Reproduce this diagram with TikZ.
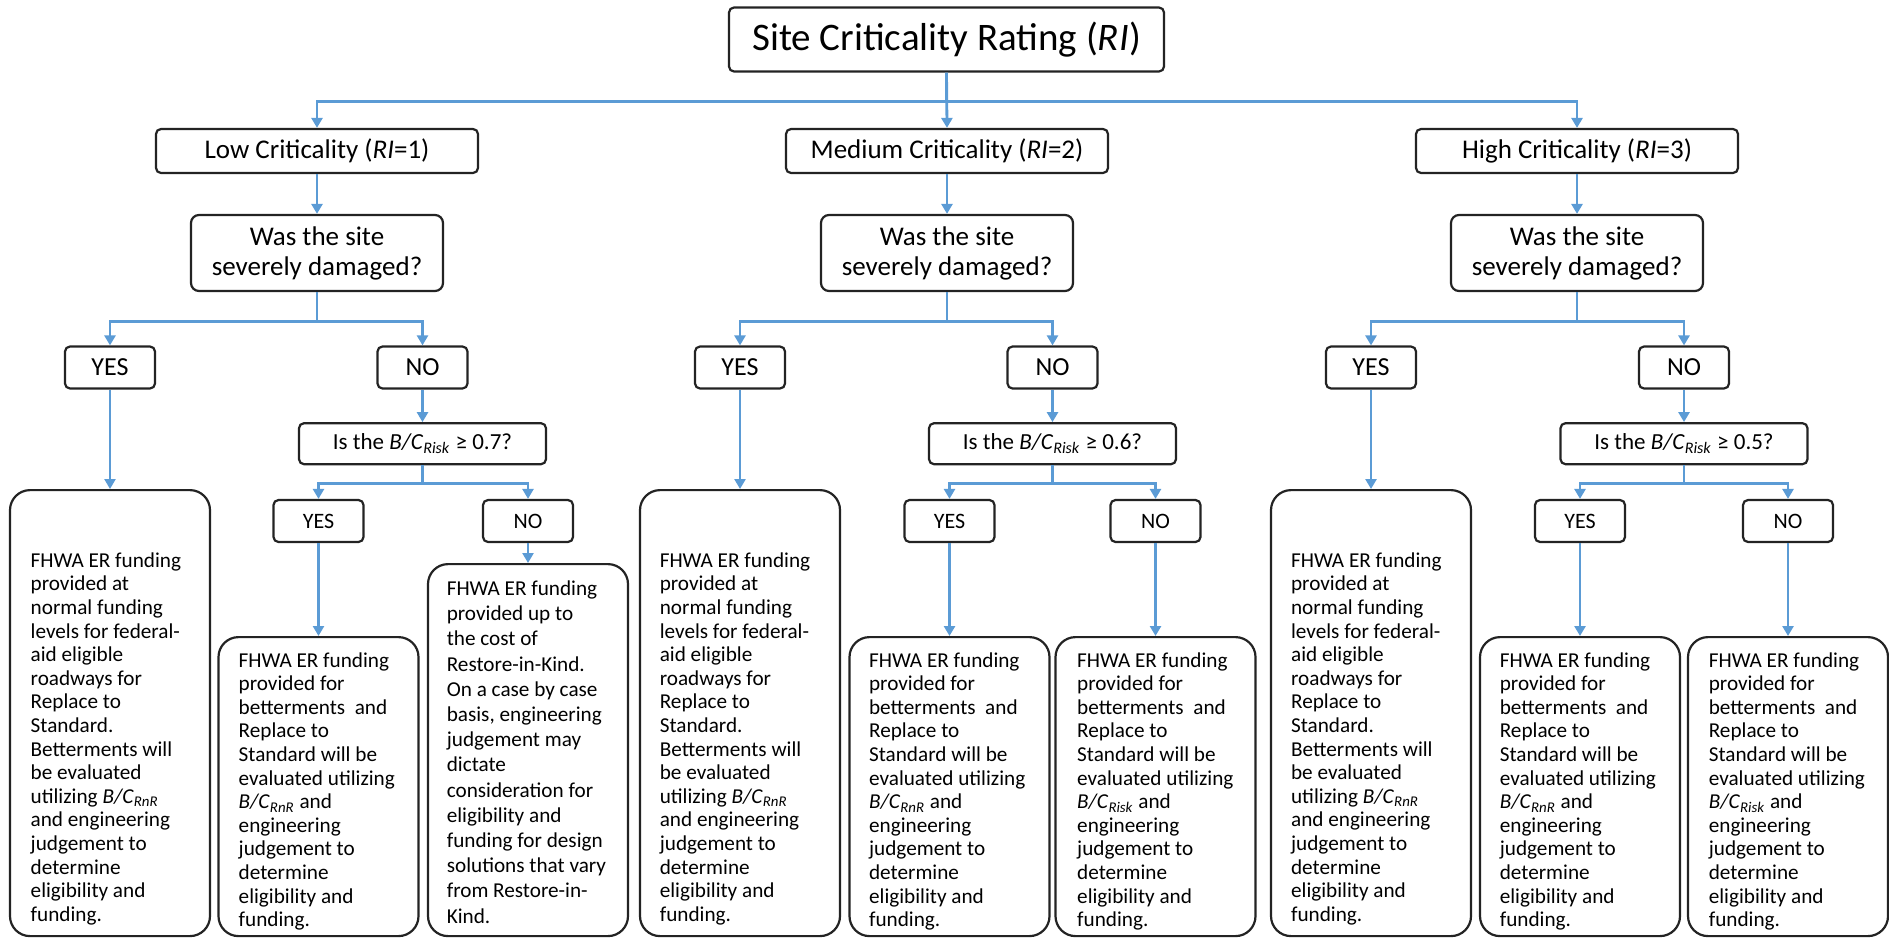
\documentclass[tikz,border=0pt]{standalone}
\usepackage{fontspec}
\setmainfont{Carlito}
\usetikzlibrary{arrows.meta}
\newcommand{\bcr}[1]{\textit{B/C}\textsubscript{\textit{#1}}}
\newcommand{\mybody}{\fontsize{10.6pt}{11.8pt}\selectfont}
\newcommand{\mybodyw}{\fontsize{10.6pt}{12.6pt}\selectfont}
\definecolor{conblue}{RGB}{91,155,213}
\definecolor{boxline}{RGB}{35,35,35}
\tikzset{
  box/.style={draw=boxline, line width=1.1pt, rounded corners=2.5pt, inner sep=0pt, align=center},
  rootbox/.style={box, minimum width=217.5pt, minimum height=32pt, font=\fontsize{19.5pt}{23pt}\selectfont},
  critbox/.style={box, minimum width=161pt, minimum height=22pt, font=\fontsize{13.5pt}{16pt}\selectfont},
  qbox/.style={box, rounded corners=4pt, minimum width=126pt, minimum height=38pt, font=\fontsize{13.5pt}{15pt}\selectfont},
  ynbox/.style={box, minimum width=45pt, minimum height=21pt, font=\fontsize{13pt}{15pt}\selectfont},
  isbox/.style={box, minimum width=123.5pt, minimum height=20.5pt, font=\fontsize{11.5pt}{14pt}\selectfont},
  yntwo/.style={box, minimum width=45pt, minimum height=21pt, font=\fontsize{11pt}{13pt}\selectfont},
  bigbox/.style={draw=boxline, line width=1.1pt, rounded corners=10pt, minimum width=100pt, inner sep=0pt, anchor=north},
  bodytext/.style={anchor=north west, inner sep=0pt, align=left, font=\mybody},
  arr/.style={draw=conblue, line width=1.4pt, -{Triangle[width=5.5pt,length=5pt]}},
}
\begin{document}
\begin{tikzpicture}[x=0.5pt,y=-0.5pt]
\useasboundingbox (0,0) rectangle (1889,937);

% root and criticality levels
\node[rootbox] (root) at (946.5,39.5) {Site Criticality Rating (\textit{RI})};
\node[critbox] (low) at (317,151) {Low Criticality (\textit{RI}=1)};
\node[critbox] (med) at (947,151) {Medium Criticality (\textit{RI}=2)};
\node[critbox] (high) at (1577,151) {High Criticality (\textit{RI}=3)};

% damage questions
\node[qbox] (qL) at (317,253) {Was the site\\severely damaged?};
\node[qbox] (qM) at (947,253) {Was the site\\severely damaged?};
\node[qbox] (qH) at (1577,253) {Was the site\\severely damaged?};

% first yes/no
\node[ynbox] (yL) at (110,367.5) {YES};
\node[ynbox] (nL) at (422.5,367.5) {NO};
\node[ynbox] (yM) at (740,367.5) {YES};
\node[ynbox] (nM) at (1052.5,367.5) {NO};
\node[ynbox] (yH) at (1371,367.5) {YES};
\node[ynbox] (nH) at (1684,367.5) {NO};

% B/C questions
\node[isbox] (isL) at (422.5,443.7) {Is the \bcr{Risk} ≥ 0.7?};
\node[isbox] (isM) at (1052.5,443.7) {Is the \bcr{Risk} ≥ 0.6?};
\node[isbox] (isH) at (1684,443.7) {Is the \bcr{Risk} ≥ 0.5?};

% second yes/no
\node[yntwo] (y2L) at (318.5,521) {YES};
\node[yntwo] (n2L) at (528,521) {NO};
\node[yntwo] (y2M) at (949.5,521) {YES};
\node[yntwo] (n2M) at (1155.5,521) {NO};
\node[yntwo] (y2H) at (1580,521) {YES};
\node[yntwo] (n2H) at (1788,521) {NO};

% outcome boxes
\node[bigbox, minimum height=223pt] (L1) at (110,489) {};
\node[bigbox, minimum height=149.5pt] (L2) at (318.5,636) {};
\node[bigbox, minimum height=186pt] (L3) at (528,563) {};
\node[bigbox, minimum height=223pt] (M1) at (740,489) {};
\node[bigbox, minimum height=149.5pt] (M2) at (949.5,636) {};
\node[bigbox, minimum height=149.5pt] (M3) at (1155.5,636) {};
\node[bigbox, minimum height=223pt] (H1) at (1371,489) {};
\node[bigbox, minimum height=149.5pt] (H2) at (1580,636) {};
\node[bigbox, minimum height=149.5pt] (H3) at (1788,636) {};

% outcome texts
\node[bodytext] (tL1) at (30.3,550.3) {\strut FHWA ER funding\\provided at\\normal funding\\levels for federal-\\aid eligible\\roadways for\\Replace to\\Standard.\\Betterments will\\be evaluated\\utilizing \bcr{RnR}\\and engineering\\judgement to\\determine\\eligibility and\\funding.};
\node[bodytext] (tM1) at (659.4,550.3) {\strut FHWA ER funding\\provided at\\normal funding\\levels for federal-\\aid eligible\\roadways for\\Replace to\\Standard.\\Betterments will\\be evaluated\\utilizing \bcr{RnR}\\and engineering\\judgement to\\determine\\eligibility and\\funding.};
\node[bodytext] (tH1) at (1290.7,550.3) {\strut FHWA ER funding\\provided at\\normal funding\\levels for federal-\\aid eligible\\roadways for\\Replace to\\Standard.\\Betterments will\\be evaluated\\utilizing \bcr{RnR}\\and engineering\\judgement to\\determine\\eligibility and\\funding.};

\node[bodytext] (tL2) at (238.3,650.2) {\strut FHWA ER funding\\provided for\\betterments\ \ and\\Replace to\\Standard will be\\evaluated utilizing\\\bcr{RnR} and\\engineering\\judgement to\\determine\\eligibility and\\funding.};
\node[bodytext] (tM2) at (868.7,650.2) {\strut FHWA ER funding\\provided for\\betterments\ \ and\\Replace to\\Standard will be\\evaluated utilizing\\\bcr{RnR} and\\engineering\\judgement to\\determine\\eligibility and\\funding.};
\node[bodytext] (tH2) at (1499.4,650.2) {\strut FHWA ER funding\\provided for\\betterments\ \ and\\Replace to\\Standard will be\\evaluated utilizing\\\bcr{RnR} and\\engineering\\judgement to\\determine\\eligibility and\\funding.};
\node[bodytext] (tM3) at (1076.8,650.2) {\strut FHWA ER funding\\provided for\\betterments\ \ and\\Replace to\\Standard will be\\evaluated utilizing\\\bcr{Risk} and\\engineering\\judgement to\\determine\\eligibility and\\funding.};
\node[bodytext] (tH3) at (1708.4,650.2) {\strut FHWA ER funding\\provided for\\betterments\ \ and\\Replace to\\Standard will be\\evaluated utilizing\\\bcr{Risk} and\\engineering\\judgement to\\determine\\eligibility and\\funding.};

\node[bodytext, font=\mybodyw] (tL3) at (446.4,577.4) {\strut FHWA ER funding\\provided up to\\the cost of\\Restore-in-Kind.\\On a case by case\\basis, engineering\\judgement may\\dictate\\consideration for\\eligibility and\\funding for design\\solutions that vary\\from Restore-in-\\Kind.};

% connectors: top level
\draw[arr] (root.south) -- ++(0,28.7) -| (low.north);
\draw[arr] (root.south) -- (med.north);
\draw[arr] (root.south) -- ++(0,28.7) -| (high.north);
\draw[arr] (low.south) -- (qL.north);
\draw[arr] (med.south) -- (qM.north);
\draw[arr] (high.south) -- (qH.north);

% damage branches
\foreach \q/\y/\n in {qL/yL/nL, qM/yM/nM, qH/yH/nH}{
  \draw[arr] (\q.south) -- ++(0,29) -| (\y.north);
  \draw[arr] (\q.south) -- ++(0,29) -| (\n.north);
}
\draw[arr] (yL.south) -- (L1.north);
\draw[arr] (yM.south) -- (M1.north);
\draw[arr] (yH.south) -- (H1.north);
\draw[arr] (nL.south) -- (isL.north);
\draw[arr] (nM.south) -- (isM.north);
\draw[arr] (nH.south) -- (isH.north);

% B/C branches
\foreach \i/\y/\n in {isL/y2L/n2L, isM/y2M/n2M, isH/y2H/n2H}{
  \draw[arr] (\i.south) -- ++(0,18.5) -| (\y.north);
  \draw[arr] (\i.south) -- ++(0,18.5) -| (\n.north);
}
\draw[arr] (y2L.south) -- (L2.north);
\draw[arr] (n2L.south) -- (L3.north);
\draw[arr] (y2M.south) -- (M2.north);
\draw[arr] (n2M.south) -- (M3.north);
\draw[arr] (y2H.south) -- (H2.north);
\draw[arr] (n2H.south) -- (H3.north);
\end{tikzpicture}
\end{document}
